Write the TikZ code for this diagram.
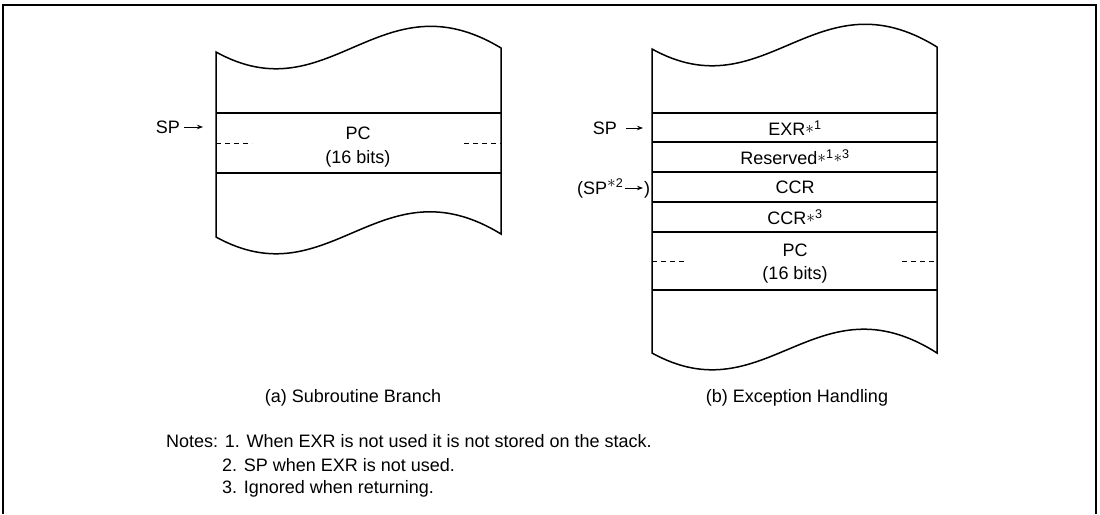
\documentclass[tikz,border=0pt]{standalone}
\usepackage{fontspec}
\setmainfont{Liberation Sans}
\usetikzlibrary{arrows.meta}

\newcommand{\nstar}{\raisebox{1.5pt}{$\ast$}}

\begin{document}
\begin{tikzpicture}[x=1pt, y=-1pt,
    stk/.style={line width=1.5pt},
    half/.style={line width=1pt, dash pattern=on 5pt off 4pt},
    lbl/.style={font=\fontsize{18}{21}\selectfont, inner sep=0pt},
    ptr/.style={-{Stealth[length=6pt, width=4.5pt]}, line width=0.9pt}
  ]
  \useasboundingbox (0,0) rectangle (1100,514);
  % outer frame, open at the bottom
  \draw[line width=1.7pt] (3,514) -- (3,5) -- (1096,5) -- (1096,514);

  % (a) subroutine branch
  \draw[stk] (216,52) .. controls (330,115) and (380,-25) .. (501,48)
             -- (501,234) .. controls (380,160) and (330,300) .. (216,237) -- cycle;
  \draw[stk] (216,113) -- (501,113) (216,173) -- (501,173);
  \draw[half] (216,143) -- (252,143) (464,143) -- (501,143);
  \node[lbl] (pcA) at (358,133) {PC};
  \node[lbl] (bitsA) at (358,159) {(16 bits)};
  \node[lbl, anchor=east] (spA) at (180,127) {SP};
  \coordinate (spA-tip) at (203,127);
  \draw[ptr, shorten <=4pt] (spA) -- (spA-tip);
  \node[lbl] (capA) at (353,398) {(a) Subroutine Branch};

  % (b) exception handling
  \draw[stk] (652,49) .. controls (766,112) and (816,-28) .. (937,47)
             -- (937,353) .. controls (816,276) and (766,416) .. (652,353) -- cycle;
  \foreach \y in {113,142,172,202,232,290}
    \draw[stk] (652,\y) -- (937,\y);
  \draw[half] (652,261) -- (687,261) (902,261) -- (937,261);
  \node[lbl] (exr) at (795,128) {EXR\nstar\textsuperscript{1}};
  \node[lbl] (rsv) at (795,157) {Reserved\nstar\textsuperscript{1}\nstar\textsuperscript{3}};
  \node[lbl] (ccrA) at (795,187) {CCR};
  \node[lbl] (ccrB) at (795,217) {CCR\nstar\textsuperscript{3}};
  \node[lbl] (pcB) at (795,250) {PC};
  \node[lbl] (bitsB) at (795,275) {(16 bits)};
  \node[lbl, anchor=east] (spB) at (617,128) {SP};
  \coordinate (spB-tip) at (643,128);
  \draw[ptr, shorten <=9pt] (spB) -- (spB-tip);
  \node[lbl, anchor=base west] (spC) at (577,194) {(SP\raisebox{7pt}{$\ast$}\textsuperscript{2}};
  \coordinate (spC-tip) at (643,188);
  \node[lbl, anchor=base west] (parC) at (644,194) {)};
  \draw[ptr, shorten <=1pt] (spC.east |- spC-tip) -- (spC-tip);
  \node[lbl] (capB) at (797,398) {(b) Exception Handling};

  % notes
  \node[lbl, anchor=west] (note1) at (166,441) {Notes: 1. When EXR is not used it is not stored on the stack.};
  \node[lbl, anchor=west] (note2) at (222,465) {2. SP when EXR is not used.};
  \node[lbl, anchor=west] (note3) at (222,489) {3. Ignored when returning.};
\end{tikzpicture}
\end{document}
